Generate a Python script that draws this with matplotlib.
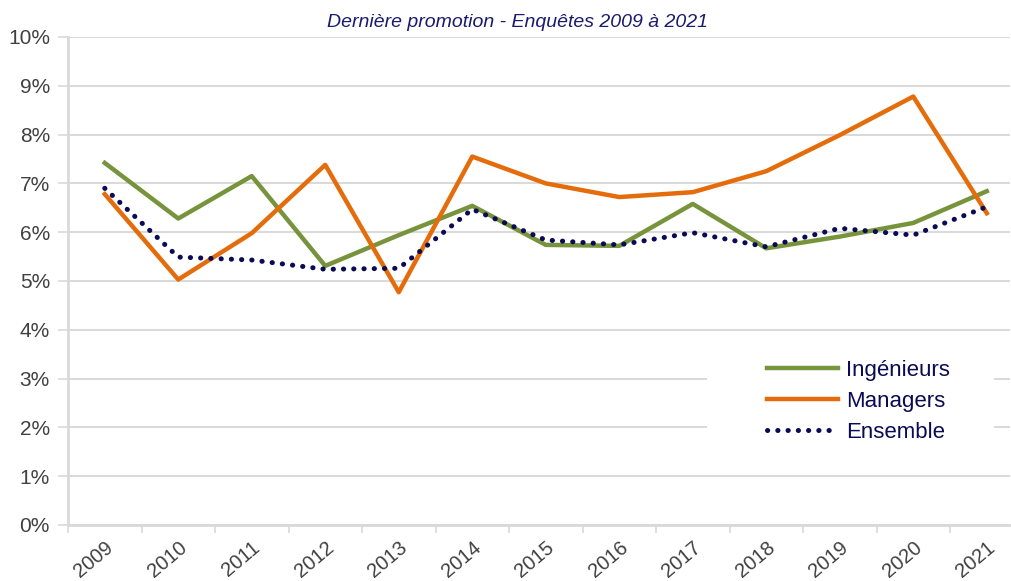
import matplotlib.pyplot as plt
from matplotlib.patches import Rectangle
import numpy as np

# données
annees = ['2009', '2010', '2011', '2012', '2013', '2014', '2015',
          '2016', '2017', '2018', '2019', '2020', '2021']
ingenieurs = [7.42, 6.28, 7.15, 5.31, 5.94, 6.54, 5.74, 5.72, 6.58, 5.67, 5.91, 6.19, 6.84]
managers = [6.78, 5.03, 5.98, 7.38, 4.77, 7.55, 7.00, 6.72, 6.82, 7.25, 7.99, 8.78, 6.39]
ensemble = [6.90, 5.49, 5.43, 5.24, 5.26, 6.47, 5.84, 5.74, 5.99, 5.70, 6.08, 5.94, 6.52]
y_ticks = [0, 1, 2, 3, 4, 5, 6, 7, 8, 9, 10]

plt.rcParams['font.family'] = ['Liberation Sans', 'DejaVu Sans']

fig = plt.figure(figsize=(10.11, 5.81), dpi=100)
ax = fig.add_axes([68 / 1011, 56 / 581, 942 / 1011, 488 / 581])

x = np.arange(len(annees))
vert = '#77933C'
orange = '#E46C0A'
marine = '#0A0A55'

ax.plot(x, ingenieurs, color=vert, linewidth=3.2, label='Ingénieurs', zorder=3)
ax.plot(x, managers, color=orange, linewidth=3.2, label='Managers', zorder=3)
ax.plot(x, ensemble, color=marine, linewidth=3.6, linestyle=(0, (0.05, 2.0)),
        dash_capstyle='round', label='Ensemble', zorder=4)

ax.set_xlim(-0.5, 12.316)
ax.set_ylim(0, 10)

# grille horizontale
ax.set_yticks(y_ticks)
ax.set_yticklabels([f'{v}%' for v in y_ticks], fontsize=15, color='#404040')
ax.yaxis.grid(True, color='#D9D9D9', linewidth=1.4)
ax.set_axisbelow(True)

# fond blanc derrière la légende (coupe la grille)
ax.add_patch(Rectangle((8.2, 1.6), 3.9, 2.0, facecolor='white', edgecolor='none', zorder=1.5))

# ticks x entre les catégories, labels au centre
ax.set_xticks(np.arange(-0.5, 12.5, 1.0))
ax.set_xticks(x, minor=True)
ax.set_xticklabels([])
ax.set_xticklabels(annees, minor=True, fontsize=14.5, color='#404040',
                   rotation=40, ha='right', rotation_mode='anchor')
ax.tick_params(axis='x', which='major', length=6, color='#D9D9D9', width=1.2, direction='out')
ax.tick_params(axis='x', which='minor', length=0, pad=9)
ax.tick_params(axis='y', length=7, color='#D9D9D9', width=1.2, pad=6)

for s in ['top', 'right']:
    ax.spines[s].set_visible(False)
ax.spines['left'].set_color('#D9D9D9')
ax.spines['left'].set_linewidth(2)
ax.spines['bottom'].set_color('#D9D9D9')
ax.spines['bottom'].set_linewidth(2)

fig.text(0.512, 0.962, 'Dernière promotion - Enquêtes 2009 à 2021', fontsize=14,
         style='italic', color='#1A1A6E', ha='center', va='center')

leg = ax.legend(loc='upper left', bbox_to_anchor=(767 / 1011, 1 - 360 / 581),
                bbox_transform=fig.transFigure, fontsize=16, frameon=False,
                handlelength=3.2, handletextpad=0.35, labelspacing=0.45,
                borderpad=0, borderaxespad=0)
for t in leg.get_texts():
    t.set_color(marine)

fig.savefig('out.png', dpi=100)
